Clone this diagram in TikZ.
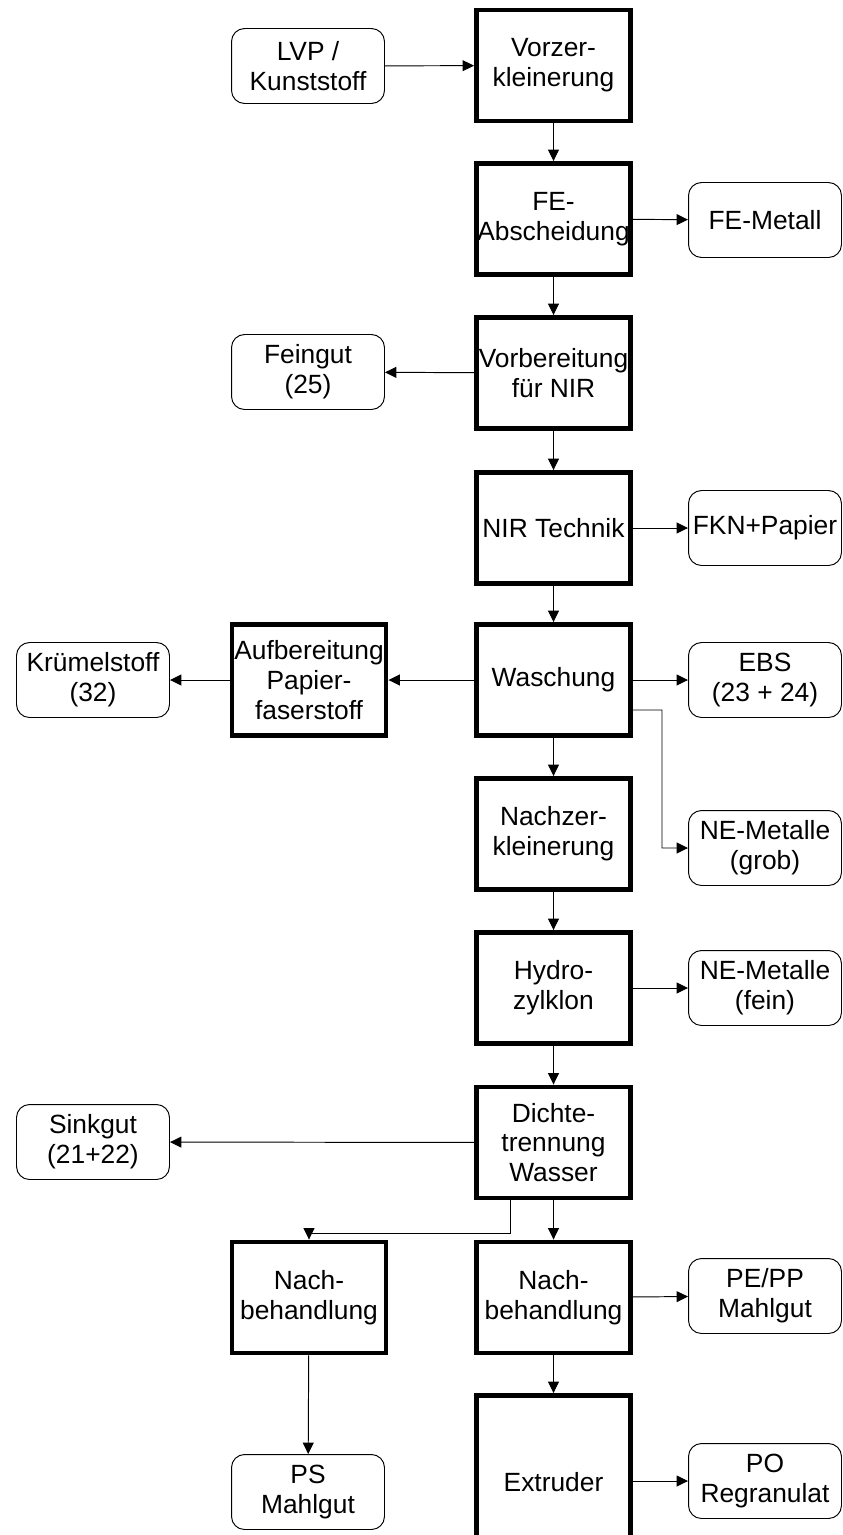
\documentclass[tikz,border=0pt]{standalone}
\usepackage{fontspec}
\setmainfont{Liberation Sans}
\usepackage{tikz}
\usetikzlibrary{arrows.meta}

\begin{document}
\begin{tikzpicture}[x=0.02cm,y=-0.02cm,
  stufe/.style={draw,line width=2.8pt,minimum width=3.08cm,minimum height=2.22cm,
    inner sep=0pt,align=center,font=\fontsize{15}{17}\selectfont},
  gut/.style={draw,line width=0.55pt,rounded corners=0.26cm,minimum width=3.06cm,
    minimum height=1.5cm,inner sep=0pt,align=center,font=\fontsize{15}{17}\selectfont},
  pfeil/.style={line width=0.55pt,-{Triangle[length=6.5pt,width=6.2pt]}}]
\useasboundingbox (0,0) rectangle (842,1535);
% Hauptlinie
\node[stufe] (vorz) at (553.5,65.5) {Vorzer-\\kleinerung};
\node[stufe] (fe) at (553.5,219) {FE-\\Abscheidung};
\node[stufe] (vorb) at (553.5,373) {Vorbereitung\\für NIR};
\node[stufe] (nir) at (553.5,528) {NIR Technik};
\node[stufe] (wasch) at (553.5,680) {Waschung};
\node[stufe] (nachz) at (553.5,834) {Nachzer-\\kleinerung};
\node[stufe] (hydro) at (553.5,988) {Hydro-\\zylklon};
\node[stufe] (dichte) at (553.5,1142.5) {Dichte-\\trennung\\Wasser};
\node[stufe] (nachbR) at (553.5,1297.5) {Nach-\\behandlung};
\node[stufe,minimum height=3.46cm] (extr) at (553.5,1482) {Extruder};
\node[stufe] (aufb) at (309,680) {Aufbereitung\\Papier-\\faserstoff};
\node[stufe] (nachbL) at (309,1297.5) {Nach-\\behandlung};
% Stoffe
\node[gut] (lvp) at (308,66) {LVP /\\Kunststoff};
\node[gut] (femet) at (765,220) {FE-Metall};
\node[gut] (fein) at (308,372) {Feingut\\(25)};
\node[gut] (fkn) at (765,528) {FKN+Papier};
\node[gut] (kruem) at (93,680) {Krümelstoff\\(32)};
\node[gut] (ebs) at (765,680) {EBS\\(23 + 24)};
\node[gut] (negrob) at (765,848) {NE-Metalle\\(grob)};
\node[gut] (nefein) at (765,988) {NE-Metalle\\(fein)};
\node[gut] (sink) at (93,1142) {Sinkgut\\(21+22)};
\node[gut] (pepp) at (765,1296) {PE/PP\\Mahlgut};
\node[gut] (ps) at (308,1492) {PS\\Mahlgut};
\node[gut] (po) at (765,1481) {PO\\Regranulat};
% Pfeile
\draw[pfeil] (lvp) -- (vorz);
\draw[pfeil] (vorz) -- (fe);
\draw[pfeil] (fe) -- (femet);
\draw[pfeil] (fe) -- (vorb);
\draw[pfeil] (vorb) -- (fein);
\draw[pfeil] (vorb) -- (nir);
\draw[pfeil] (nir) -- (fkn);
\draw[pfeil] (nir) -- (wasch);
\draw[pfeil] (wasch) -- (aufb);
\draw[pfeil] (aufb) -- (kruem);
\draw[pfeil] (wasch) -- (ebs);
\coordinate (knick) at (662,710);
\draw[pfeil] ([yshift=-0.6cm]wasch.east) -- (knick) |- (negrob.west);
\draw[pfeil] (wasch) -- (nachz);
\draw[pfeil] (nachz) -- (hydro);
\draw[pfeil] (hydro) -- (nefein);
\draw[pfeil] (hydro) -- (dichte);
\draw[pfeil] (dichte) -- (sink);
\draw[pfeil] (dichte) -- (nachbR);
\draw[pfeil] ([xshift=-0.87cm]dichte.south) -- ++(0,33) -| (nachbL.north);
\draw[pfeil] (nachbR) -- (pepp);
\draw[pfeil] (nachbR) -- (extr);
\draw[pfeil] (nachbL) -- (ps);
\draw[pfeil] (extr.east |- po) -- (po);
\end{tikzpicture}
\end{document}
